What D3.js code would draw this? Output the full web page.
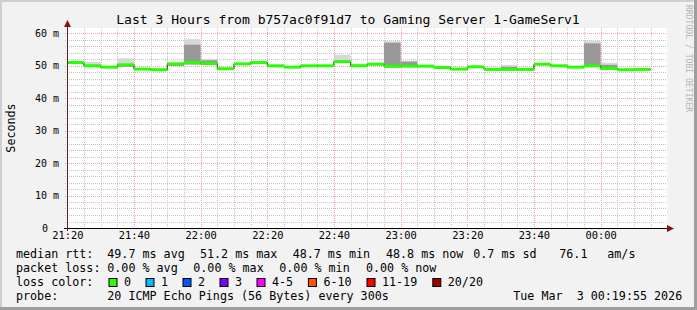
<!DOCTYPE html>
<html><head><meta charset="utf-8">
<script src="https://cdn.jsdelivr.net/npm/d3@7"></script>
<style>
body{margin:0;background:#f2f2f2}
svg{display:block}
text{font-family:"DejaVu Sans Mono",monospace;fill:#000}
</style>
</head><body>
<svg id="c" width="697" height="310"></svg>
<script>
// ---- data (5-minute steps starting 21:20) ----
const median   = [50.9,49.9,49.5,50.2,48.9,48.7,50.5,50.9,50.6,49.0,50.5,50.9,49.9,49.5,49.9,49.9,51.2,49.9,50.4,49.8,49.8,49.8,49.4,48.9,49.6,48.8,48.8,48.8,50.4,49.9,49.5,49.9,49.1,48.7,48.8];
const smokeLo  = [50.6,49.6,49.3,49.6,48.7,48.5,49.9,50.3,50.2,48.8,50.2,50.6,49.6,49.3,49.7,49.7,50.8,49.7,50.1,49.4,49.5,49.6,49.0,48.7,49.4,48.6,48.6,48.6,50.2,49.7,49.3,49.5,48.8,48.5,48.6];
const smokeMid = [51.0,50.2,49.6,50.4,49.0,48.8,50.6,56.4,51.6,49.1,50.6,51.0,50.0,49.6,50.0,50.0,51.4,50.2,50.5,57.0,51.2,49.9,49.5,49.0,49.7,48.9,49.6,48.9,50.5,50.0,49.6,56.8,50.2,48.8,48.9];
const smokeHi  = [51.2,51.1,49.8,52.2,49.2,49.1,50.8,58.1,52.0,49.3,50.8,51.3,50.2,49.8,50.2,50.2,53.3,50.6,50.8,57.5,51.5,50.1,49.7,49.2,49.9,49.1,50.2,49.2,50.7,50.2,49.8,57.6,50.9,49.0,49.1];
const firstStep = "2026-03-02T21:20:00Z";
const rangeStart = "2026-03-02T21:19:55Z";
const rangeEnd   = "2026-03-03T00:19:55Z";
const xTickLabels = ["21:20","21:40","22:00","22:20","22:40","23:00","23:20","23:40","00:00"];
const yTicks = [0,10,20,30,40,50,60];
const yTickLabels = ["0","10 m","20 m","30 m","40 m","50 m","60 m"];
const lossLabels = ["0","1","2","3","4-5","6-10","11-19","20/20"];
const lossColors = ["#26ff00","#00b8ff","#0059ff","#7e00ff","#ff00ff","#ff5500","#ff0000","#a10000"];
const title = "Last 3 Hours from b757ac0f91d7 to Gaming Server 1-GameServ1";
const rttLabels = ["median rtt:","49.7 ms avg","51.2 ms max","48.7 ms min","48.8 ms now","0.7 ms sd","76.1","am/s"];
const lossStatLabels = ["packet loss:","0.00 % avg","0.00 % max","0.00 % min","0.00 % now"];
const probeLabels = ["probe:","20 ICMP Echo Pings (56 Bytes) every 300s","Tue Mar  3 00:19:55 2026"];

// ---- layout ----
const W=697,H=310, L=67, R=667, T=28, B=228;
const svg=d3.select("#c");
svg.append("rect").attr("width",W).attr("height",H).attr("fill","#f2f2f2");
svg.append("path").attr("fill","#cfcfcf").attr("d",`M0,0H${W}V2H2V${H}H0Z`);
svg.append("path").attr("fill","#9e9e9e").attr("d",`M${W},0V${H}H0V${H-3}H${W-3}V0Z`);

const x=d3.scaleUtc().domain([new Date(rangeStart),new Date(rangeEnd)]).range([L,R]);
const y=d3.scaleLinear().domain([0,200/3.25]).range([B,T]);

svg.append("rect").attr("x",L).attr("y",T).attr("width",R-L).attr("height",B-T).attr("fill","#fff");

const t0=new Date(firstStep);
const steps=median.map((m,i)=>({t:d3.utcMinute.offset(t0,5*i),t2:d3.utcMinute.offset(t0,5*i+5),m,lo:smokeLo[i],mid:smokeMid[i],hi:smokeHi[i]}));

// grid (under the data)
const gridG=svg.append("g");
const hMinor=d3.range(2,61,2).filter(v=>v%10!==0);
gridG.selectAll(".hm").data(hMinor).join("line")
 .attr("x1",L-2).attr("x2",R).attr("y1",d=>Math.round(y(d))+0.5).attr("y2",d=>Math.round(y(d))+0.5)
 .attr("stroke","#c4c4c4").attr("stroke-dasharray","1,1");
const vMinor=d3.utcMinute.every(5).range(new Date(rangeStart),new Date(rangeEnd)).filter(d=>d.getUTCMinutes()%20!==0);
gridG.selectAll(".vm").data(vMinor).join("line")
 .attr("y1",T).attr("y2",B+2).attr("x1",d=>Math.round(x(d))+0.5).attr("x2",d=>Math.round(x(d))+0.5)
 .attr("stroke","#c4c4c4").attr("stroke-dasharray","1,1");
gridG.selectAll(".hM").data(yTicks.filter(v=>v>0)).join("line")
 .attr("x1",L-2).attr("x2",R).attr("y1",d=>Math.round(y(d))+0.5).attr("y2",d=>Math.round(y(d))+0.5)
 .attr("stroke","#eba4a4").attr("stroke-dasharray","1,1");
const tickDates=xTickLabels.map(s=>{const [h,m]=s.split(":").map(Number);return new Date(Date.UTC(2026,2,h<12?3:2,h,m));});
gridG.selectAll(".vM").data(tickDates.slice(1)).join("line")
 .attr("y1",T).attr("y2",B+2).attr("x1",d=>Math.round(x(d))+0.5).attr("x2",d=>Math.round(x(d))+0.5)
 .attr("stroke","#eba4a4").attr("stroke-dasharray","1,1");

// smoke
const g=svg.append("g");
g.selectAll(".sl").data(steps).join("rect")
 .attr("x",d=>x(d.t)).attr("width",d=>x(d.t2)-x(d.t))
 .attr("y",d=>y(d.hi)).attr("height",d=>y(d.lo)-y(d.hi)).attr("fill","#d4d4d4").attr("fill-opacity",0.9);
g.selectAll(".sm").data(steps).join("rect")
 .attr("x",d=>x(d.t)).attr("width",d=>x(d.t2)-x(d.t))
 .attr("y",d=>y(d.mid)).attr("height",d=>Math.max(0,y(d.lo)-y(d.mid))).attr("fill","#959595").attr("fill-opacity",0.95);

// median line (dark step) + green band
const line=d3.line().x(d=>d[0]).y(d=>d[1]).curve(d3.curveStepAfter);
const pts=steps.map(d=>[x(d.t),y(d.m)]); pts.push([x(steps[steps.length-1].t2),y(steps[steps.length-1].m)]);
svg.append("path").attr("d",line(pts)).attr("fill","none").attr("stroke","#202020").attr("stroke-width",1);
svg.selectAll(".med").data(steps).join("rect")
 .attr("x",d=>x(d.t)).attr("width",d=>x(d.t2)-x(d.t))
 .attr("y",d=>y(d.m)-1.5).attr("height",3).attr("fill",lossColors[0]);

// axes
svg.append("line").attr("x1",L-3).attr("x2",R+2).attr("y1",B+0.5).attr("y2",B+0.5).attr("stroke","#000");
svg.append("line").attr("x1",L+0.5).attr("x2",L+0.5).attr("y1",T-1).attr("y2",B+3).attr("stroke","#5a2424");
svg.append("path").attr("fill","#8b1010").attr("d",`M${L+0.5},20L${L+4},27L${L-3},27Z`);
svg.append("path").attr("fill","#8b1010").attr("d",`M${R+7},${B+0.5}L${R},${B-3}L${R},${B+4}Z`);

const xa=svg.append("g").attr("transform",`translate(0,${B})`)
 .call(d3.axisBottom(x).tickValues(tickDates).tickFormat(d3.utcFormat("%H:%M")).tickSize(0).tickPadding(4));
xa.select(".domain").remove();
xa.selectAll("text").attr("font-size","10.4px").attr("font-family","DejaVu Sans Mono").attr("fill","#000").attr("dy","0.71em");

// y tick labels
svg.selectAll(".yl").data(yTicks).join("text")
 .attr("x",(d,i)=>yTickLabels[i]==="0"?48:59).attr("y",d=>y(d)+3.6)
 .attr("text-anchor","end").attr("font-size","10px").text((d,i)=>yTickLabels[i]);

// title
svg.append("text").attr("x",348).attr("y",24).attr("text-anchor","middle").attr("font-size","13.05px").text(title);
// y label
svg.append("text").attr("transform","translate(15,128) rotate(-90)").attr("text-anchor","middle").attr("font-size","11.7px").text("Seconds");
// watermark
svg.append("text").attr("transform","translate(685.5,5) rotate(90)").attr("font-size","8.1px").style("fill","#b4b4b4").text("RRDTOOL / TOBI OETIKER");

// legend
const fs="11.7px";
const rttX=[16,107.3,200,292.7,386,473.3,559.3,607.3];
svg.selectAll(".l1").data(rttLabels).join("text").attr("x",(d,i)=>rttX[i]).attr("y",258).attr("font-size",fs).text(d=>d);
const lossX=[16,107.3,193.3,279.3,366];
svg.selectAll(".l2").data(lossStatLabels).join("text").attr("x",(d,i)=>lossX[i]).attr("y",272).attr("font-size",fs).text(d=>d);
svg.append("text").attr("x",16).attr("y",286).attr("font-size",fs).text("loss color:");
let lx=108.5;
lossLabels.forEach((lab,i)=>{
  svg.append("rect").attr("x",lx+0.5).attr("y",278.5).attr("width",8).attr("height",8).attr("fill",lossColors[i]).attr("stroke","#000");
  svg.append("text").attr("x",lx+15.5).attr("y",286).attr("font-size",fs).text(lab);
  lx+=29.8+lab.length*7.2;
});
const probeX=[16,107.3,513.3];
svg.selectAll(".l4").data(probeLabels).join("text").attr("x",(d,i)=>probeX[i]).attr("y",299.5).attr("font-size",fs).style("white-space","pre").text(d=>d);
</script>
</body></html>
